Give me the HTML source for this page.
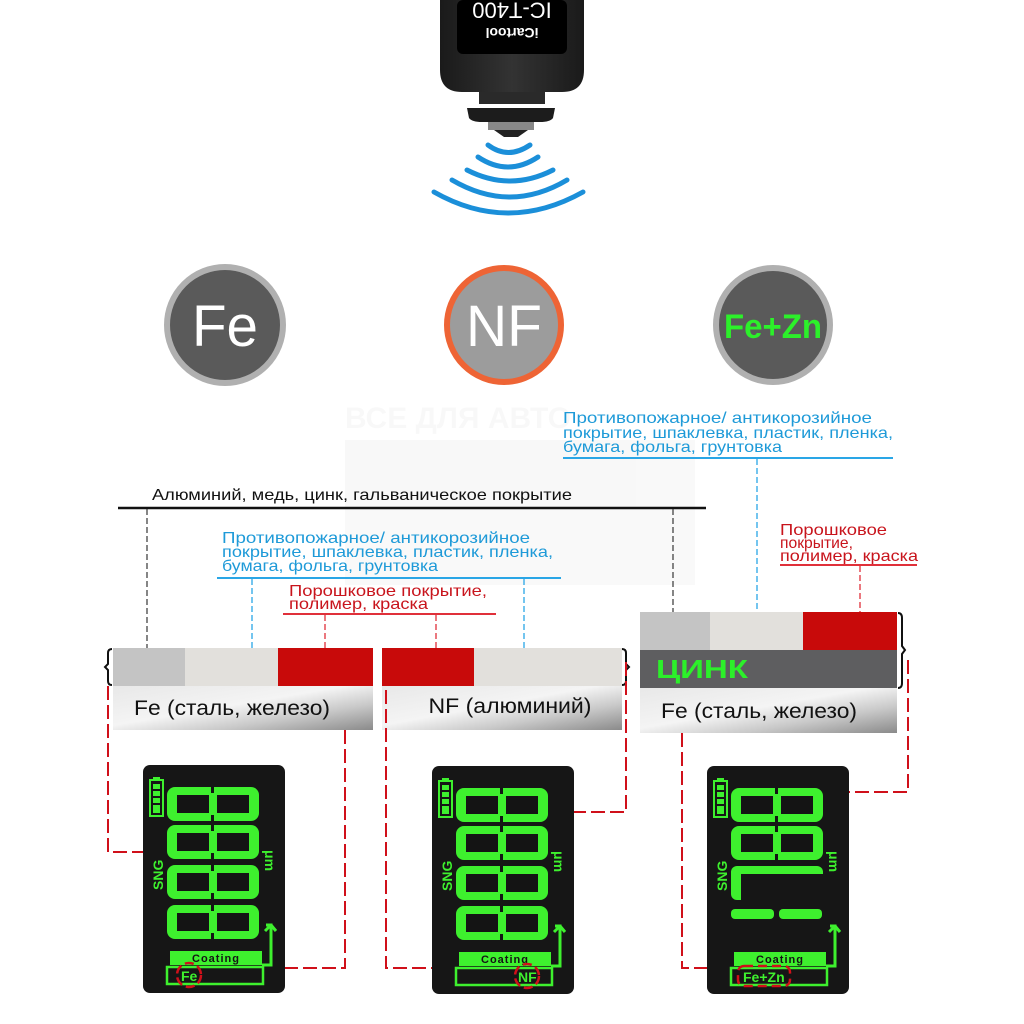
<!DOCTYPE html>
<html><head><meta charset="utf-8"><style>
html,body{margin:0;padding:0;background:#fff;}
svg{display:block;}
text{font-family:"Liberation Sans","DejaVu Sans",sans-serif;}
</style></head><body>
<svg width="1024" height="1024" viewBox="0 0 1024 1024" xmlns="http://www.w3.org/2000/svg">
<defs>
<linearGradient id="steel" x1="0" y1="0" x2="1" y2="1">
<stop offset="0" stop-color="#e8e8e8"/><stop offset="0.45" stop-color="#f4f4f4"/><stop offset="0.7" stop-color="#c9c9c9"/><stop offset="1" stop-color="#8a8a8a"/>
</linearGradient>
<linearGradient id="devbody" x1="0" y1="0" x2="1" y2="0">
<stop offset="0" stop-color="#1a1a1a"/><stop offset="0.5" stop-color="#333"/><stop offset="1" stop-color="#1a1a1a"/>
</linearGradient>
<g id="d8">
<rect x="0" y="0" width="92" height="34" rx="8" fill="#3ef02e"/>
<rect x="10" y="8" width="32" height="18" fill="#141414"/>
<rect x="50" y="8" width="32" height="18" fill="#141414"/>
<rect x="44" y="0" width="3" height="6" fill="#141414"/>
<rect x="44" y="28" width="3" height="6" fill="#141414"/>
</g>
<g id="disp">
<rect x="0" y="0" width="142" height="228" rx="7" fill="#161616"/>
<rect x="7" y="15" width="13" height="36" fill="none" stroke="#3ef02e" stroke-width="2"/>
<rect x="10" y="12" width="7" height="3" fill="#3ef02e"/>
<rect x="10" y="19" width="7" height="5" fill="#3ef02e"/><rect x="10" y="26" width="7" height="5" fill="#3ef02e"/><rect x="10" y="33" width="7" height="5" fill="#3ef02e"/><rect x="10" y="40" width="7" height="8" fill="#3ef02e"/>
<text transform="translate(20,125) rotate(-90)" font-size="14" font-weight="bold" fill="#3ef02e">SNG</text>
<text transform="translate(122,85) rotate(90)" font-size="14" font-weight="bold" fill="#3ef02e">μm</text>
<path d="M119 200 H128 V160 H123 M128 160 l-6 6 M128 160 l5 6" fill="none" stroke="#3ef02e" stroke-width="3"/>
<rect x="27" y="186" width="92" height="14" fill="#3ef02e"/>
<text x="73" y="197" font-size="11" font-weight="bold" fill="#141414" text-anchor="middle" letter-spacing="1">Coating</text>
<rect x="24" y="202" width="96" height="17" fill="none" stroke="#3ef02e" stroke-width="2.5"/>
</g>
</defs>

<!-- watermark -->
<g opacity="0.025">
<text x="345" y="428" font-size="30" font-weight="bold" fill="#000">ВСЕ ДЛЯ АВТО</text>
<rect x="345" y="440" width="350" height="145" fill="#000"/>
</g>

<!-- device -->
<path d="M440 0 H584 V70 Q584 92 562 92 H462 Q440 92 440 70 Z" fill="url(#devbody)"/>
<rect x="457" y="0" width="110" height="54" rx="6" fill="#000"/>
<text transform="translate(512,10) rotate(180)" font-size="22" fill="#fff" text-anchor="middle" dominant-baseline="central">IC-T400</text>
<text transform="translate(512,33) rotate(180)" font-size="14" font-weight="bold" fill="#fff" text-anchor="middle" dominant-baseline="central">iCartool</text>
<rect x="479" y="92" width="66" height="12" fill="#2a2a2a"/>
<path d="M467 108 H555 L553 118 Q550 122 540 122 H482 Q472 122 469 118 Z" fill="#1c1c1c"/>
<rect x="488" y="122" width="46" height="8" fill="#888"/>
<path d="M494 130 H528 L518 137 H504 Z" fill="#222"/>
<g fill="none" stroke="#1b8fd9" stroke-width="5" stroke-linecap="round">
<path d="M488 145 Q508 160 530 145"/>
<path d="M478 157 Q508 177 538 157"/>
<path d="M467 170 Q510 192 553 170"/>
<path d="M452 180 Q510 214 567 180"/>
<path d="M434 192 Q508 234 583 192"/>
</g>

<!-- circles -->
<circle cx="225" cy="325" r="58" fill="#5a5a5a" stroke="#b0b0b0" stroke-width="6"/>
<text x="225" y="346" font-size="58" fill="#fff" text-anchor="middle" textLength="66" lengthAdjust="spacingAndGlyphs">Fe</text>
<circle cx="504" cy="325" r="57" fill="#9c9c9c" stroke="#ee6435" stroke-width="6"/>
<text x="504" y="346" font-size="58" fill="#fff" text-anchor="middle" textLength="76" lengthAdjust="spacingAndGlyphs">NF</text>
<circle cx="773" cy="325" r="57" fill="#5a5a5a" stroke="#b0b0b0" stroke-width="6"/>
<text x="773" y="338" font-size="34" font-weight="bold" fill="#2cf02a" text-anchor="middle" textLength="98" lengthAdjust="spacingAndGlyphs">Fe+Zn</text>

<!-- labels -->
<g font-size="16">
<text x="563" y="423" fill="#1e9ad8" textLength="309" lengthAdjust="spacingAndGlyphs">Противопожарное/ антикорозийное</text>
<text x="563" y="438" fill="#1e9ad8" textLength="330" lengthAdjust="spacingAndGlyphs">покрытие, шпаклевка, пластик, пленка,</text>
<text x="563" y="452" fill="#1e9ad8" textLength="219" lengthAdjust="spacingAndGlyphs">бумага, фольга, грунтовка</text>
<text x="152" y="500" fill="#111" textLength="420" lengthAdjust="spacingAndGlyphs">Алюминий, медь, цинк, гальваническое покрытие</text>
<text x="222" y="543" fill="#1e9ad8" textLength="308" lengthAdjust="spacingAndGlyphs">Противопожарное/ антикорозийное</text>
<text x="222" y="557" fill="#1e9ad8" textLength="331" lengthAdjust="spacingAndGlyphs">покрытие, шпаклевка, пластик, пленка,</text>
<text x="222" y="571" fill="#1e9ad8" textLength="216" lengthAdjust="spacingAndGlyphs">бумага, фольга, грунтовка</text>
<text x="289" y="596" fill="#c8141c" textLength="198" lengthAdjust="spacingAndGlyphs">Порошковое покрытие,</text>
<text x="289" y="609" fill="#c8141c" textLength="139" lengthAdjust="spacingAndGlyphs">полимер, краска</text>
<text x="780" y="535" fill="#c8141c" textLength="107" lengthAdjust="spacingAndGlyphs">Порошковое</text>
<text x="780" y="548" fill="#c8141c" textLength="73" lengthAdjust="spacingAndGlyphs">покрытие,</text>
<text x="780" y="561" fill="#c8141c" textLength="138" lengthAdjust="spacingAndGlyphs">полимер, краска</text>
</g>
<line x1="563" y1="458" x2="893" y2="458" stroke="#2aa6e6" stroke-width="2"/>
<line x1="118" y1="508" x2="706" y2="508" stroke="#111" stroke-width="2.5"/>
<line x1="217" y1="578" x2="561" y2="578" stroke="#2aa6e6" stroke-width="2"/>
<line x1="283" y1="614" x2="496" y2="614" stroke="#e0303a" stroke-width="2"/>
<line x1="780" y1="565" x2="917" y2="565" stroke="#e0303a" stroke-width="2"/>

<g stroke-width="1.3" stroke-dasharray="6,3" fill="none">
<line x1="147" y1="509" x2="147" y2="648" stroke="#444"/>
<line x1="673" y1="509" x2="673" y2="612" stroke="#444"/>
<line x1="252" y1="579" x2="252" y2="648" stroke="#2aa6e6"/>
<line x1="524" y1="579" x2="524" y2="648" stroke="#2aa6e6"/>
<line x1="757" y1="459" x2="757" y2="612" stroke="#2aa6e6"/>
<line x1="325" y1="615" x2="325" y2="648" stroke="#e0303a"/>
<line x1="436" y1="615" x2="436" y2="648" stroke="#e0303a"/>
<line x1="860" y1="566" x2="860" y2="612" stroke="#e0303a"/>
</g>

<!-- sample 1 -->
<rect x="113" y="648" width="72" height="38" fill="#c4c4c4"/>
<rect x="185" y="648" width="93" height="38" fill="#e2e0dc"/>
<rect x="278" y="648" width="95" height="38" fill="#c80a0a"/>
<rect x="113" y="686" width="260" height="44" fill="url(#steel)"/>
<text x="232" y="715" font-size="21" fill="#111" text-anchor="middle" textLength="196" lengthAdjust="spacingAndGlyphs">Fe (сталь, железо)</text>
<path d="M112 649 Q108 649 108 653 V664 L105 667 L108 670 V681 Q108 685 112 685" fill="none" stroke="#111" stroke-width="2"/>

<!-- sample 2 -->
<rect x="382" y="648" width="92" height="38" fill="#c80a0a"/>
<rect x="474" y="648" width="148" height="38" fill="#e2e0dc"/>
<rect x="382" y="686" width="240" height="44" fill="url(#steel)"/>
<text x="510" y="713" font-size="21" fill="#111" text-anchor="middle" textLength="163" lengthAdjust="spacingAndGlyphs">NF (алюминий)</text>
<path d="M622 649 Q626 649 626 653 V664 L629 667 L626 670 V681 Q626 685 622 685" fill="none" stroke="#111" stroke-width="2"/>

<!-- sample 3 -->
<rect x="640" y="612" width="70" height="38" fill="#c4c4c4"/>
<rect x="710" y="612" width="93" height="38" fill="#e2e0dc"/>
<rect x="803" y="612" width="94" height="38" fill="#c80a0a"/>
<rect x="640" y="650" width="257" height="38" fill="#5e5e60"/>
<text x="656" y="678" font-size="26" font-weight="bold" fill="#2cf02a" textLength="92" lengthAdjust="spacingAndGlyphs">ЦИНК</text>
<rect x="640" y="688" width="257" height="45" fill="url(#steel)"/>
<text x="759" y="718" font-size="21" fill="#111" text-anchor="middle" textLength="196" lengthAdjust="spacingAndGlyphs">Fe (сталь, железо)</text>
<path d="M898 613 Q902 613 902 618 V646 L905 650 L902 654 V683 Q902 688 898 688" fill="none" stroke="#111" stroke-width="2"/>

<!-- red connectors -->
<g stroke="#d0101a" stroke-width="2" stroke-dasharray="14,5" fill="none">
<path d="M108 686 V852 H170"/>
<path d="M345 730 V968 H195"/>
<path d="M386 690 V968 H520"/>
<path d="M626 662 V812 H566"/>
<path d="M682 733 V968 H770"/>
<path d="M908 660 V792 H838"/>
</g>

<!-- displays -->
<g transform="translate(143,765)">
<use href="#disp"/>
<use href="#d8" x="24" y="22"/>
<use href="#d8" x="24" y="60"/>
<use href="#d8" x="24" y="100"/>
<use href="#d8" x="24" y="140"/>
<text x="38" y="216" font-size="14" font-weight="bold" fill="#3ef02e">Fe</text>
<circle cx="46" cy="210" r="12" fill="none" stroke="#d0101a" stroke-width="2.5" stroke-dasharray="9,4"/>
</g>
<g transform="translate(432,766)">
<use href="#disp"/>
<use href="#d8" x="24" y="22"/>
<use href="#d8" x="24" y="60"/>
<use href="#d8" x="24" y="100"/>
<use href="#d8" x="24" y="140"/>
<text x="86" y="216" font-size="14" font-weight="bold" fill="#3ef02e">NF</text>
<circle cx="95" cy="210" r="12" fill="none" stroke="#d0101a" stroke-width="2.5" stroke-dasharray="9,4"/>
</g>
<g transform="translate(707,766)">
<use href="#disp"/>
<use href="#d8" x="24" y="22"/>
<use href="#d8" x="24" y="60"/>
<rect x="24" y="100" width="92" height="34" rx="6" fill="#3ef02e"/>
<rect x="34" y="108" width="82" height="26" fill="#161616"/>
<rect x="24" y="143" width="43" height="10" rx="4" fill="#3ef02e"/>
<rect x="72" y="143" width="43" height="10" rx="4" fill="#3ef02e"/>
<text x="36" y="216" font-size="14" font-weight="bold" fill="#3ef02e">Fe+Zn</text>
<rect x="31" y="200" width="52" height="20" rx="6" fill="none" stroke="#d0101a" stroke-width="2.5" stroke-dasharray="9,5"/>
</g>
</svg>
</body></html>
